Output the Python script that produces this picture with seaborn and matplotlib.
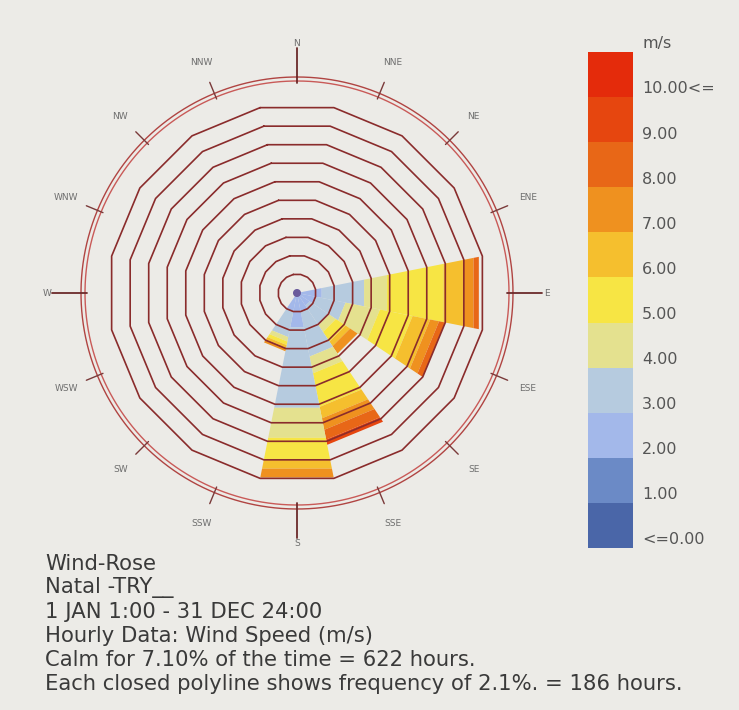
import numpy as np
import pandas as pd
import matplotlib
matplotlib.use("Agg")
import matplotlib.pyplot as plt
from matplotlib.colors import ListedColormap
import seaborn as sns

# ---------------- data ----------------
directions = ["N", "NNE", "NE", "ENE", "E", "ESE", "SE", "SSE",
              "S", "SSW", "SW", "WSW", "W", "WNW", "NW", "NNW"]
speed_labels = ["<=0.00", "1.00", "2.00", "3.00", "4.00", "5.00",
                "6.00", "7.00", "8.00", "9.00", "10.00<="]
speed_colors = ["#4a66a8", "#6b8ac6", "#a3b8ea", "#b6cbdf", "#e4e18f",
                "#f7e544", "#f5bf2e", "#ef911f", "#e86717", "#e6460f", "#e42b0b"]

# frequency (%) per speed bin (bins ordered as speed_labels)
freq_E   = [0, 0, 2.8, 4.8, 2.6, 6.4, 2.2, 1.2, 0.6, 0, 0]
freq_ESE = [0, 0, 2.2, 3.3, 3.9, 3.7, 2.0, 1.0, 0.7, 0, 0]
freq_SE  = [0, 0, 1.7, 2.6, 0.9, 1.3, 0.6, 1.0, 0, 0, 0]
freq_SSE = [0, 0, 2.2, 5.0, 1.9, 3.8, 1.3, 1.3, 1.1, 0.6, 0]
freq_S   = [0, 0, 3.9, 9.1, 3.4, 2.4, 1.1, 1.0, 0, 0, 0]
freq_SSW = [0, 0, 2.2, 2.8, 0.5, 0.4, 0.3, 0.4, 0, 0, 0]
freq_by_dir = {"E": freq_E, "ESE": freq_ESE, "SE": freq_SE,
               "SSE": freq_SSE, "S": freq_S, "SSW": freq_SSW}

ring_step = 2.1          # % per closed polyline
n_rings = 10
calm_pct = 7.10

info_lines = ["Wind-Rose",
              "Natal -TRY__",
              "1 JAN 1:00 - 31 DEC 24:00",
              "Hourly Data: Wind Speed (m/s)",
              "Calm for 7.10% of the time = 622 hours.",
              "Each closed polyline shows frequency of 2.1%. = 186 hours."]

# --------------- figure ---------------
bg = "#ecebe7"
sns.set_style("white")
plt.rcParams["font.family"] = ["DejaVu Sans"]
fig = plt.figure(figsize=(7.39, 7.10), dpi=100, facecolor=bg)

px = 1 / 9.0  # % per pixel on the rose
half = 280 * px
ax = fig.add_axes([17 / 739, (710 - 573) / 710, 560 / 739, 560 / 710])
ax.set_xlim(-half, half)
ax.set_ylim(-half, half)
ax.axis("off")
ax.patch.set_alpha(0)

sector = 360 / len(directions)


def pt(az_deg, r):
    a = np.deg2rad(az_deg)
    return r * np.sin(a), r * np.cos(a)


# bars (stacked trapezoids)
for i, d in enumerate(directions):
    vals = freq_by_dir.get(d)
    if vals is None:
        continue
    c = i * sector
    a0, a1 = c - sector / 2, c + sector / 2
    r_in = 0.0
    for v, col in zip(vals, speed_colors):
        if v <= 0:
            continue
        r_out = r_in + v
        pts = [pt(a0, r_in), pt(a0, r_out), pt(a1, r_out), pt(a1, r_in)]
        xs, ys = zip(*pts)
        ax.fill(xs, ys, color=col, lw=0, zorder=2)
        r_in = r_out

# closed polylines
angs = np.arange(len(directions) + 1) * sector - sector / 2
for k in range(1, n_rings + 1):
    r = k * ring_step
    xs, ys = pt(angs, r)
    ax.plot(xs, ys, color="#8a2c2c", lw=1.2, zorder=3)

# outer double circle
t = np.linspace(0, 360, 400)
for rr, col in [(212 * px, "#c95a58"), (216 * px, "#b04442")]:
    xs, ys = pt(t, rr)
    ax.plot(xs, ys, color=col, lw=1.0, zorder=3)

# ticks and direction labels
for i, d in enumerate(directions):
    az = i * sector
    major = (i % 4 == 0)
    r_end = (245 if major else 228) * px
    x0, y0 = pt(az, 210 * px)
    x1, y1 = pt(az, r_end)
    ax.plot([x0, x1], [y0, y1], color="#6b2a2a" if major else "#7a3a3a",
            lw=1.3 if major else 1.0, zorder=3)
    lx, ly = pt(az, 250 * px)
    ax.text(lx, ly, d, ha="center", va="center", fontsize=6.5, color="#6e6e6e")

# calm dot
xs, ys = pt(t, 4 * px)
ax.fill(xs, ys, color="#6a5a9c", zorder=4, lw=0)

# ------------- colour legend (seaborn heatmap) -------------
cax = fig.add_axes([588 / 739, (710 - 548) / 710, 45 / 739, 496 / 710])
leg = pd.DataFrame({"v": np.arange(len(speed_labels))[::-1]})
sns.heatmap(leg, ax=cax, cmap=ListedColormap(speed_colors), cbar=False,
            xticklabels=False, yticklabels=False, vmin=-0.5,
            vmax=len(speed_labels) - 0.5)
cax.set_xlabel("")
cax.set_ylabel("")
legend_text = ["m/s"] + speed_labels[::-1]
for j, lab in enumerate(legend_text):
    cax.text(1.2, j - 0.18, lab, ha="left", va="center", fontsize=11.5,
             color="#555555", transform=cax.transData, clip_on=False)

# ------------- info text -------------
y0 = 564
for j, line in enumerate(info_lines):
    fig.text(45 / 739, 1 - (y0 + 24 * j) / 710, line, ha="left", va="center",
             fontsize=15.2, color="#3a3a3a")

fig.savefig("out.png", dpi=100, facecolor=bg)
